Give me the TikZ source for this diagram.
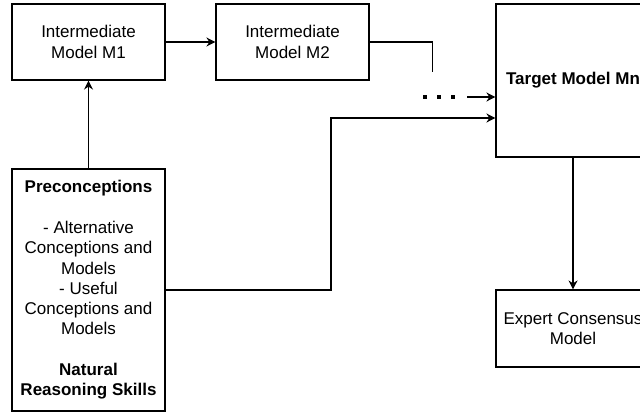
\documentclass[tikz,border=0pt]{standalone}
\usepackage{fontspec}
\setmainfont{Liberation Sans}
\usetikzlibrary{arrows.meta}

\begin{document}
\begin{tikzpicture}[x=1pt,y=-1pt]
    \tikzstyle{every node}+=[inner sep=0pt]
    \tikzstyle{box}=[draw=black, line width=1.1pt, align=center, font=\fontsize{17}{20.3}\selectfont]
    \tikzstyle{arr}=[black, line width=1.1pt, -{Stealth[length=9pt,width=9pt]}]
    \path [use as bounding box] (0,0) rectangle (640,412);
    \clip (0,0) rectangle (640,412);
    \node [box, minimum width=153, minimum height=76] (m1) at (88.5,42) {Intermediate\\Model M1};
    \node [box, minimum width=153, minimum height=76] (m2) at (292.5,42) {Intermediate\\Model M2};
    \node [box, minimum width=154, minimum height=153] (target) at (573,80.5) {\textbf{Target Model Mn}};
    \node [box, minimum width=154, minimum height=77] (expert) at (573,328.5) {Expert Consensus\\Model};
    \node [box, minimum width=153, minimum height=242] (pre) at (88.5,290) {\textbf{Preconceptions}\\[20.3pt]
        - Alternative\\Conceptions and\\Models\\- Useful\\Conceptions and\\Models\\[20.3pt]
        \textbf{Natural}\\\textbf{Reasoning Skills}};
    \coordinate (gapend) at (432.7,72);
    \coordinate (dotsa) at (423,97);
    \coordinate (dotsb) at (457,97);
    \coordinate (dotsend) at (467,97);
    \coordinate (bend) at (331,118);
    \draw [arr] (m1) -- (m2);
    \draw [black, line width=1.1pt] (m2.east) -| (gapend);
    \draw [black, line width=4pt, dash pattern=on 4pt off 10pt] (dotsa) -- (dotsb);
    \draw [arr] (dotsend) -- (dotsend -| target.west);
    \draw [arr] (pre) -- (m1);
    \draw [arr] (pre.east) -| (bend) -- (bend -| target.west);
    \draw [arr] (target) -- (expert);
\end{tikzpicture}
\end{document}
